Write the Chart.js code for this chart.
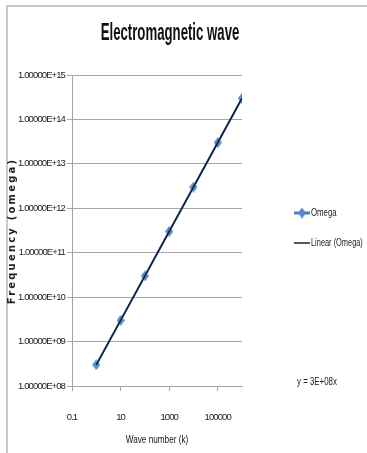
<!DOCTYPE html>
<html>
<head>
<meta charset="utf-8">
<script src="https://cdn.jsdelivr.net/npm/chart.js@4/dist/chart.umd.min.js"></script>
<style>
  html, body { margin: 0; padding: 0; background: #fff; }
  canvas { display: block; }
</style>
</head>
<body>
<canvas id="waveChart" width="367" height="453"></canvas>
<script>
const waveNumbers = [1, 10, 100, 1000, 10000, 100000, 1000000];
const omegaValues = [3e8, 3e9, 3e10, 3e11, 3e12, 3e13, 3e14];
const trendK = [1, 1000000];
const trendOmega = [3e8, 3e14];
const xTicks = [0.1, 10, 1000, 100000];
const yTicks = [1e8, 1e9, 1e10, 1e11, 1e12, 1e13, 1e14, 1e15];
const chartTitle = 'Electromagnetic wave';
const xTitle = 'Wave number (k)';
const yTitle = 'Frequency (omega)';
const equationText = 'y = 3E+08x';

const sans = "'Liberation Sans', Arial, sans-serif";
const tight = '-0.9px';
const markerBlue = '#5589cc';

function sci(v) {
  const parts = v.toExponential(5).split('e');
  let exp = parseInt(parts[1], 10);
  const sign = exp < 0 ? '-' : '+';
  exp = Math.abs(exp);
  return parts[0] + 'E' + sign + (exp < 10 ? '0' + exp : exp);
}

// tall diamond marker, like the Excel one
function makeMarker(w, h, color) {
  const c = document.createElement('canvas');
  c.width = w;
  c.height = h;
  const g = c.getContext('2d');
  g.beginPath();
  g.moveTo(w / 2, 0);
  g.lineTo(w, h / 2);
  g.lineTo(w / 2, h);
  g.lineTo(0, h / 2);
  g.closePath();
  g.fillStyle = color;
  g.fill();
  return c;
}
const marker = makeMarker(8, 11, markerBlue);

// text squeezed sideways, the original uses a narrow font
function narrowText(ctx, text, x, y, font, sx, align) {
  ctx.save();
  ctx.translate(x, y);
  ctx.scale(sx, 1);
  ctx.font = font;
  ctx.letterSpacing = '0px';
  ctx.textAlign = align;
  ctx.fillText(text, 0, 0);
  ctx.restore();
}

// frame, titles, legend and trendline equation
const extras = {
  id: 'extras',
  beforeDraw(chart) {
    const ctx = chart.ctx;
    ctx.letterSpacing = tight;
    ctx.save();
    ctx.fillStyle = '#fff';
    ctx.fillRect(0, 0, chart.width, chart.height);
    ctx.strokeStyle = '#c8c8c8';
    ctx.lineWidth = 2;
    ctx.beginPath();
    ctx.moveTo(367, 6);
    ctx.lineTo(7, 6);
    ctx.lineTo(7, 453);
    ctx.stroke();
    ctx.restore();
  },
  afterDraw(chart) {
    const ctx = chart.ctx;
    const ds = chart.data.datasets;
    ctx.save();
    ctx.fillStyle = '#111';
    ctx.textBaseline = 'alphabetic';
    narrowText(ctx, chartTitle, 170, 40, 'bold 24px ' + sans, 0.55, 'center');

    ctx.textBaseline = 'middle';
    narrowText(ctx, xTitle, 157, 440, '10.5px ' + sans, 0.78, 'center');

    // y axis title
    ctx.save();
    ctx.translate(12, 231);
    ctx.rotate(-Math.PI / 2);
    ctx.font = "bold 10px 'DejaVu Sans', sans-serif";
    ctx.letterSpacing = '2.2px';
    ctx.textAlign = 'center';
    ctx.fillStyle = '#222';
    ctx.fillText(yTitle, 0, 0);
    ctx.restore();

    // legend
    ctx.strokeStyle = ds[0].borderColor;
    ctx.lineWidth = 3;
    ctx.beginPath();
    ctx.moveTo(294, 213);
    ctx.lineTo(310, 213);
    ctx.stroke();
    ctx.drawImage(marker, 298, 207.5);
    ctx.fillStyle = '#222';
    narrowText(ctx, ds[0].label, 311, 213, '10px ' + sans, 0.78, 'left');

    ctx.strokeStyle = ds[1].borderColor;
    ctx.lineWidth = 1.5;
    ctx.beginPath();
    ctx.moveTo(294, 243);
    ctx.lineTo(310, 243);
    ctx.stroke();
    narrowText(ctx, ds[1].label, 311, 243, '10px ' + sans, 0.74, 'left');

    narrowText(ctx, equationText, 297, 382, '10px ' + sans, 0.79, 'left');
    ctx.restore();
  }
};

const ctx = document.getElementById('waveChart').getContext('2d');
const chart = new Chart(ctx, {
  type: 'scatter',
  data: {
    datasets: [
      {
        label: 'Omega',
        data: waveNumbers.map((k, i) => ({ x: k, y: omegaValues[i] })),
        showLine: true,
        borderColor: '#4a7ebb',
        borderWidth: 2,
        pointStyle: marker,
        pointRadius: 5,
        order: 2
      },
      {
        label: 'Linear (Omega)',
        data: trendK.map((k, i) => ({ x: k, y: trendOmega[i] })),
        showLine: true,
        borderColor: '#13233f',
        borderWidth: 1.6,
        pointRadius: 0,
        order: 1
      }
    ]
  },
  options: {
    responsive: false,
    animation: false,
    layout: { padding: { left: 0, right: 125, top: 75, bottom: 0 } },
    plugins: {
      legend: { display: false },
      tooltip: { enabled: false },
      title: { display: false }
    },
    scales: {
      x: {
        type: 'logarithmic',
        min: 0.1,
        max: 1000000,
        afterBuildTicks: s => { s.ticks = xTicks.map(v => ({ value: v })); },
        afterFit: s => { s.height = 67; },
        ticks: {
          color: '#222',
          font: { family: sans, size: 9.5 },
          padding: 21,
          maxRotation: 0,
          autoSkip: false,
          callback: v => String(v)
        },
        grid: { drawOnChartArea: false, drawTicks: true, tickLength: 5, color: '#a6a6a6' },
        border: { color: '#a6a6a6' }
      },
      y: {
        type: 'logarithmic',
        min: 1e8,
        max: 1e15,
        afterBuildTicks: s => { s.ticks = yTicks.map(v => ({ value: v })); },
        afterFit: s => { s.width = 72; },
        ticks: {
          color: '#222',
          font: { family: sans, size: 9.5 },
          padding: 2,
          autoSkip: false,
          callback: v => sci(v)
        },
        grid: { color: '#a6a6a6', lineWidth: 1, drawTicks: true, tickLength: 5 },
        border: { color: '#a6a6a6' }
      }
    }
  },
  plugins: [extras]
});
</script>
</body>
</html>
